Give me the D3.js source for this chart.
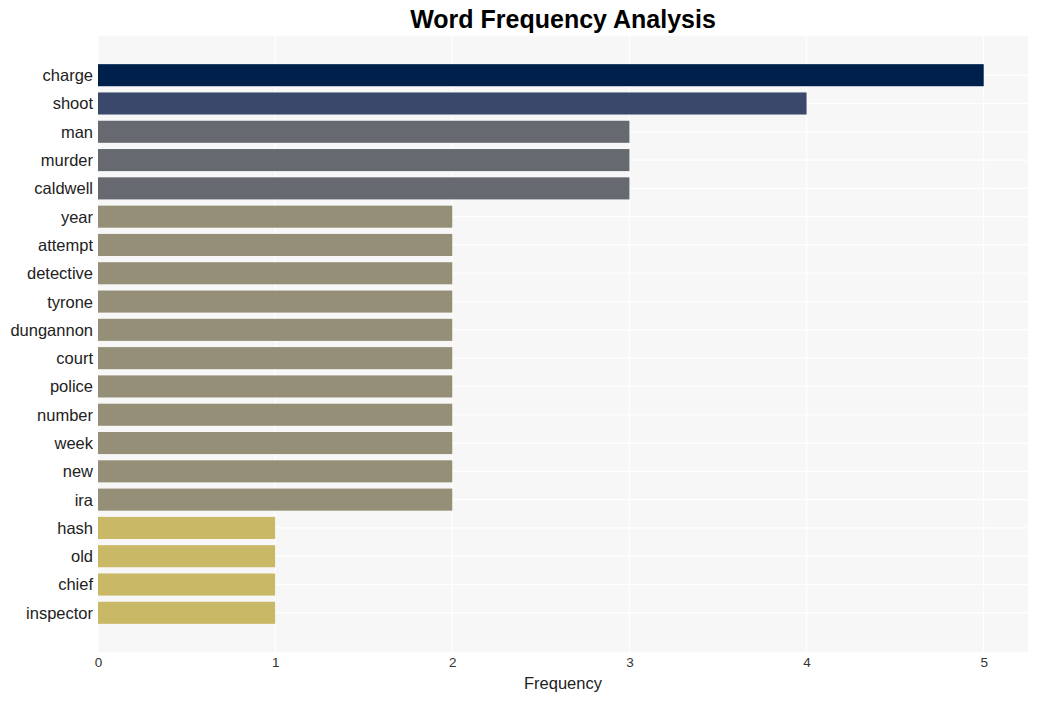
<!DOCTYPE html>
<html><head><meta charset="utf-8">
<script src="https://cdn.jsdelivr.net/npm/d3@7"></script>
<style>body{margin:0;background:#fff;}text{font-family:"Liberation Sans",Arial,sans-serif;}</style>
</head><body><svg id="c" width="1038" height="701"></svg>
<script>
const words = ["charge","shoot","man","murder","caldwell","year","attempt","detective","tyrone","dungannon","court","police","number","week","new","ira","hash","old","chief","inspector"];
const counts = [5,4,3,3,3,2,2,2,2,2,2,2,2,2,2,2,1,1,1,1];
const xTicks = [0,1,2,3,4,5];
const colorByCount = {5:"#00204c",4:"#39486b",3:"#666970",2:"#958f78",1:"#c9b866"};

const svg = d3.select("#c");
const m = {l:98, r:1028, t:36, b:652};
const x = d3.scaleLinear().domain([0,5.25]).range([m.l,m.r]);
const y = d3.scaleBand().domain(words).range([m.t,m.b]).paddingInner(0.22).paddingOuter(0.995);

svg.append("rect").attr("x",m.l).attr("y",m.t).attr("width",m.r-m.l).attr("height",m.b-m.t).attr("fill","#f7f7f7");
svg.append("g").selectAll("line").data(xTicks).join("line")
  .attr("x1",d=>x(d)).attr("x2",d=>x(d)).attr("y1",m.t).attr("y2",m.b)
  .attr("stroke","#ffffff").attr("stroke-width",1.2);
svg.append("g").selectAll("line").data(words).join("line")
  .attr("x1",m.l).attr("x2",m.r).attr("y1",d=>y(d)+y.bandwidth()/2).attr("y2",d=>y(d)+y.bandwidth()/2)
  .attr("stroke","#ffffff").attr("stroke-width",1.2);

svg.append("g").selectAll("rect").data(words).join("rect")
  .attr("x",x(0)).attr("y",d=>y(d)).attr("height",y.bandwidth())
  .attr("width",(d,i)=>x(counts[i])-x(0))
  .attr("fill",(d,i)=>colorByCount[counts[i]]);

const xa = svg.append("g").attr("transform",`translate(0,${m.b})`)
  .call(d3.axisBottom(x).tickValues(xTicks).tickFormat(d3.format("d")).tickSize(0).tickPadding(5));
xa.select(".domain").remove();
xa.attr("font-size",null).attr("font-family",null);
xa.selectAll("text").style("font-size","13.5px").attr("fill","#333").style("font-family","Liberation Sans, Arial, sans-serif");

const ya = svg.append("g").attr("transform",`translate(${m.l},0)`)
  .call(d3.axisLeft(y).tickSize(0).tickPadding(5));
ya.select(".domain").remove();
ya.attr("font-size",null).attr("font-family",null);
ya.selectAll("text").style("font-size","16.5px").attr("fill","#222").attr("dy","0.36em").style("font-family","Liberation Sans, Arial, sans-serif");

svg.append("text").attr("x",(m.l+m.r)/2).attr("y",28).attr("text-anchor","middle")
  .attr("font-size",25).attr("font-weight","bold").attr("fill","#000").text("Word Frequency Analysis");
svg.append("text").attr("x",(m.l+m.r)/2).attr("y",689).attr("text-anchor","middle")
  .attr("font-size",16.5).attr("fill","#222").text("Frequency");
</script></body></html>
